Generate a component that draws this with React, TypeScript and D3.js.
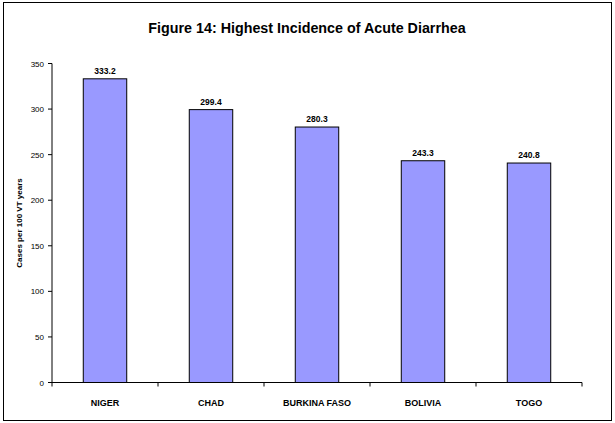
import React from "react";
import * as d3 from "d3";

const categories = ["NIGER", "CHAD", "BURKINA FASO", "BOLIVIA", "TOGO"];
const values = [333.2, 299.4, 280.3, 243.3, 240.8];
const yTicks = [0, 50, 100, 150, 200, 250, 300, 350];
const title = "Figure 14: Highest Incidence of Acute Diarrhea";
const yLabel = "Cases per 100 VT years";

export default function App() {
  const W = 615, H = 423;
  const left = 52, right = 582, top = 63.5, bottom = 382.5;
  const x = d3.scaleBand<string>().domain(categories).range([left, right]).paddingInner(0).paddingOuter(0);
  const y = d3.scaleLinear().domain([0, 350]).range([bottom, top]);
  const bw = x.bandwidth() * 0.41;
  const font = "Liberation Sans, Arial, sans-serif";
  return (
    <svg width={W} height={H} style={{ position: "absolute", left: 0, top: 0 }} fontFamily={font}>
      <rect x={0} y={0} width={W} height={H} fill="#fff" />
      <rect x={3.5} y={2.5} width={608} height={418} fill="none" stroke="#000" strokeWidth={1} />
      <text x={307} y={33} textAnchor="middle" fontSize={14.3} fontWeight="bold">{title}</text>
      {categories.map((c, i) => {
        const cx = x(c)! + x.bandwidth() / 2;
        return (
          <g key={c}>
            <rect x={cx - bw / 2} y={y(values[i])} width={bw} height={bottom - y(values[i])} fill="#9999FF" stroke="#000" strokeWidth={1} />
            <text x={cx} y={y(values[i]) - 5} textAnchor="middle" fontSize={8.5} fontWeight="bold">{values[i].toFixed(1)}</text>
            <text x={cx} y={bottom + 23} textAnchor="middle" fontSize={9} fontWeight="bold">{c}</text>
          </g>
        );
      })}
      <line x1={left} x2={left} y1={top} y2={bottom} stroke="#000" />
      <line x1={left} x2={right} y1={bottom} y2={bottom} stroke="#000" />
      {yTicks.map(t => (
        <g key={t}>
          <line x1={left - 4} x2={left} y1={y(t)} y2={y(t)} stroke="#000" />
          <text x={left - 8} y={y(t) + 3} textAnchor="end" fontSize={8}>{t}</text>
        </g>
      ))}
      {categories.map((c) => (
        <line key={c} x1={x(c)! + x.bandwidth()} x2={x(c)! + x.bandwidth()} y1={bottom} y2={bottom + 4} stroke="#000" />
      ))}
      <line x1={left} x2={left} y1={bottom} y2={bottom + 4} stroke="#000" />
      <text transform={`translate(22,${(top + bottom) / 2}) rotate(-90)`} textAnchor="middle" fontSize={8} fontWeight="bold">{yLabel}</text>
    </svg>
  );
}
